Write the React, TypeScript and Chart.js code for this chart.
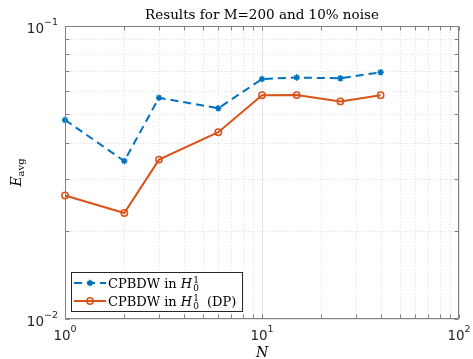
import React, { useEffect, useRef } from 'react';
import { Chart, registerables } from 'chart.js';

Chart.register(...registerables);

// ---- data ----
const nValues = [1, 2, 3, 6, 10, 15, 25, 40];
const errH01 = [0.0478, 0.0346, 0.0569, 0.0524, 0.0659, 0.0667, 0.0663, 0.0695];
const errH01DP = [0.0264, 0.023, 0.035, 0.0434, 0.058, 0.0581, 0.0553, 0.058];
const seriesPrefix = ['CPBDW in ', 'CPBDW in '];
const seriesSuffix = ['', ' (DP)'];
const xTickValues = [1, 10, 100];
const xTickExponents = ['0', '1', '2'];
const yTickValues = [0.01, 0.1];
const yTickExponents = ['-2', '-1'];
const titleText = 'Results for M=200 and 10% noise';

const W = 473;
const H = 359;
const SERIF = '"DejaVu Serif", "Liberation Serif", serif';
const SANS = '"DejaVu Sans", "Liberation Sans", sans-serif';
const AXIS = '#808080';
const TEXT = '#262626';
const BLUE = '#0072BD';
const ORANGE = '#D95319';

type Part = { text: string; font: string; dy?: number };

function richWidth(ctx: CanvasRenderingContext2D, parts: Part[]) {
  let w = 0;
  for (const p of parts) {
    ctx.font = p.font;
    w += ctx.measureText(p.text).width;
  }
  return w;
}

function drawRich(ctx: CanvasRenderingContext2D, parts: Part[], x: number, y: number) {
  let cx = x;
  for (const p of parts) {
    ctx.font = p.font;
    ctx.fillText(p.text, cx, y + (p.dy || 0));
    cx += ctx.measureText(p.text).width;
  }
  return cx;
}

function powerParts(exp: string): Part[] {
  return [
    { text: '10', font: `13.5px ${SANS}` },
    { text: exp.replace('-', '\u2212'), font: `9.5px ${SANS}`, dy: -6 },
  ];
}

function minorValues(min: number, max: number) {
  const out: number[] = [];
  for (let e = Math.floor(Math.log10(min)); e < Math.ceil(Math.log10(max)); e++) {
    for (let k = 2; k <= 9; k++) out.push(k * Math.pow(10, e));
  }
  return out;
}

function drawMarker(ctx: CanvasRenderingContext2D, style: string, color: string, x: number, y: number) {
  ctx.save();
  ctx.strokeStyle = color;
  ctx.lineWidth = 1.5;
  ctx.setLineDash([]);
  const r = 3.2;
  ctx.beginPath();
  if (style === 'star') {
    for (let i = 0; i < 4; i++) {
      const ang = (i * Math.PI) / 4;
      ctx.moveTo(x - r * Math.cos(ang), y - r * Math.sin(ang));
      ctx.lineTo(x + r * Math.cos(ang), y + r * Math.sin(ang));
    }
  } else {
    ctx.arc(x, y, r, 0, Math.PI * 2);
  }
  ctx.stroke();
  ctx.restore();
}

const decorPlugin = {
  id: 'matlabDecor',
  beforeDatasetsDraw(chart: any) {
    const { ctx, chartArea: a, scales } = chart;
    const xs = scales.x;
    const ys = scales.y;
    ctx.save();
    ctx.lineWidth = 1;
    ctx.strokeStyle = 'rgba(0,0,0,0.12)';
    ctx.setLineDash([1, 2]);
    for (const v of minorValues(xs.min, xs.max)) {
      const px = Math.round(xs.getPixelForValue(v)) + 0.5;
      ctx.beginPath();
      ctx.moveTo(px, a.top);
      ctx.lineTo(px, a.bottom);
      ctx.stroke();
    }
    for (const v of minorValues(ys.min, ys.max)) {
      const py = Math.round(ys.getPixelForValue(v)) + 0.5;
      ctx.beginPath();
      ctx.moveTo(a.left, py);
      ctx.lineTo(a.right, py);
      ctx.stroke();
    }
    ctx.setLineDash([]);
    ctx.strokeStyle = 'rgba(0,0,0,0.1)';
    for (const v of xTickValues) {
      const px = Math.round(xs.getPixelForValue(v)) + 0.5;
      ctx.beginPath();
      ctx.moveTo(px, a.top);
      ctx.lineTo(px, a.bottom);
      ctx.stroke();
    }
    for (const v of yTickValues) {
      const py = Math.round(ys.getPixelForValue(v)) + 0.5;
      ctx.beginPath();
      ctx.moveTo(a.left, py);
      ctx.lineTo(a.right, py);
      ctx.stroke();
    }
    ctx.restore();
  },
  afterDraw(chart: any) {
    const { ctx, chartArea: a, scales } = chart;
    const xs = scales.x;
    const ys = scales.y;
    ctx.save();
    ctx.strokeStyle = AXIS;
    ctx.lineWidth = 1;
    ctx.setLineDash([]);
    const L = Math.round(a.left) + 0.5;
    const R = Math.round(a.right) - 0.5;
    const T = Math.round(a.top) + 0.5;
    const B = Math.round(a.bottom) - 0.5;
    ctx.strokeRect(L, T, R - L, B - T);
    const tl = 4;
    const xt = [...xTickValues, ...minorValues(xs.min, xs.max)];
    for (const v of xt) {
      const px = Math.round(xs.getPixelForValue(v)) + 0.5;
      ctx.beginPath();
      ctx.moveTo(px, B);
      ctx.lineTo(px, B - tl);
      ctx.moveTo(px, T);
      ctx.lineTo(px, T + tl);
      ctx.stroke();
    }
    const yt = [...yTickValues, ...minorValues(ys.min, ys.max)];
    for (const v of yt) {
      const py = Math.round(ys.getPixelForValue(v)) + 0.5;
      ctx.beginPath();
      ctx.moveTo(L, py);
      ctx.lineTo(L + tl, py);
      ctx.moveTo(R, py);
      ctx.lineTo(R - tl, py);
      ctx.stroke();
    }
    ctx.fillStyle = TEXT;
    ctx.textBaseline = 'middle';
    ctx.textAlign = 'left';
    xTickValues.forEach((v, i) => {
      const parts = powerParts(xTickExponents[i]);
      const w = richWidth(ctx, parts);
      const px = xs.getPixelForValue(v);
      drawRich(ctx, parts, px - w / 2, a.bottom + 17);
    });
    yTickValues.forEach((v, i) => {
      const parts = powerParts(yTickExponents[i]);
      const w = richWidth(ctx, parts);
      const py = ys.getPixelForValue(v);
      drawRich(ctx, parts, a.left - 7 - w, py + 3);
    });
    ctx.fillStyle = '#000';
    ctx.textBaseline = 'alphabetic';
    const tParts: Part[] = [{ text: titleText, font: `13.5px ${SERIF}` }];
    const tw = richWidth(ctx, tParts);
    drawRich(ctx, tParts, (a.left + a.right) / 2 - tw / 2, 19);
    const nParts: Part[] = [{ text: 'N', font: `italic 14px ${SERIF}` }];
    const nw = richWidth(ctx, nParts);
    drawRich(ctx, nParts, (a.left + a.right) / 2 - nw / 2, 357);
    ctx.save();
    ctx.translate(21, (a.top + a.bottom) / 2);
    ctx.rotate(-Math.PI / 2);
    const eParts: Part[] = [
      { text: 'E', font: `italic 14px ${SERIF}` },
      { text: 'avg', font: `10px ${SERIF}`, dy: 3 },
    ];
    const ew = richWidth(ctx, eParts);
    drawRich(ctx, eParts, -ew / 2, 0);
    ctx.restore();

    const lx = 71;
    const ly = 272;
    const lw = 171;
    const lh = 39;
    ctx.fillStyle = '#fff';
    ctx.fillRect(lx, ly, lw, lh);
    ctx.strokeStyle = '#262626';
    ctx.lineWidth = 1;
    ctx.strokeRect(lx + 0.5, ly + 0.5, lw, lh);
    chart.data.datasets.forEach((ds: any, i: number) => {
      const cy = ly + 11 + i * 18;
      ctx.save();
      ctx.strokeStyle = ds.borderColor;
      ctx.lineWidth = ds.borderWidth;
      ctx.setLineDash(ds.borderDash || []);
      ctx.beginPath();
      ctx.moveTo(lx + 3, cy);
      ctx.lineTo(lx + 35, cy);
      ctx.stroke();
      ctx.restore();
      drawMarker(ctx, ds.pointStyle, ds.borderColor, lx + 19, cy);
      ctx.fillStyle = '#000';
      ctx.textBaseline = 'alphabetic';
      const base = cy + 4.5;
      let cx = drawRich(ctx, [{ text: seriesPrefix[i], font: `13px ${SERIF}` }], lx + 37, base);
      cx = drawRich(ctx, [{ text: 'H', font: `italic 13px ${SERIF}` }], cx, base);
      ctx.font = `9px ${SERIF}`;
      ctx.fillText('1', cx + 1, base - 5);
      ctx.fillText('0', cx + 1, base + 3);
      cx += 1 + ctx.measureText('0').width + 4;
      drawRich(ctx, [{ text: seriesSuffix[i], font: `13px ${SERIF}` }], cx, base);
    });
    ctx.restore();
  },
};

export default function App() {
  const ref = useRef<HTMLCanvasElement | null>(null);
  useEffect(() => {
    if (!ref.current) return;
    const chart = new Chart(ref.current, {
      type: 'line',
      data: {
        datasets: [
          {
            label: 'CPBDW in H01',
            data: nValues.map((n, i) => ({ x: n, y: errH01[i] })),
            borderColor: BLUE,
            backgroundColor: BLUE,
            borderWidth: 2,
            borderDash: [8, 5],
            pointStyle: 'star',
            pointRadius: 3.2,
            pointBorderWidth: 1.5,
            clip: false,
            tension: 0,
          },
          {
            label: 'CPBDW in H01 (DP)',
            data: nValues.map((n, i) => ({ x: n, y: errH01DP[i] })),
            borderColor: ORANGE,
            backgroundColor: 'rgba(0,0,0,0)',
            borderWidth: 2,
            pointStyle: 'circle',
            pointRadius: 3.2,
            pointBorderWidth: 1.5,
            clip: false,
            tension: 0,
          },
        ],
      },
      options: {
        responsive: false,
        maintainAspectRatio: false,
        animation: false,
        devicePixelRatio: 1,
        layout: { padding: { left: 65, right: 14, top: 26, bottom: 40 } },
        scales: {
          x: { type: 'logarithmic', min: 1, max: 100, display: false },
          y: { type: 'logarithmic', min: 0.01, max: 0.1, display: false },
        },
        plugins: {
          legend: { display: false },
          title: { display: false },
          tooltip: { enabled: false },
        },
      },
      plugins: [decorPlugin],
    } as any);
    return () => chart.destroy();
  }, []);
  return (
    <div style={{ position: 'fixed', left: 0, top: 0, width: W, height: H, background: '#fff' }}>
      <canvas ref={ref} width={W} height={H} style={{ width: W, height: H, display: 'block' }} />
    </div>
  );
}
